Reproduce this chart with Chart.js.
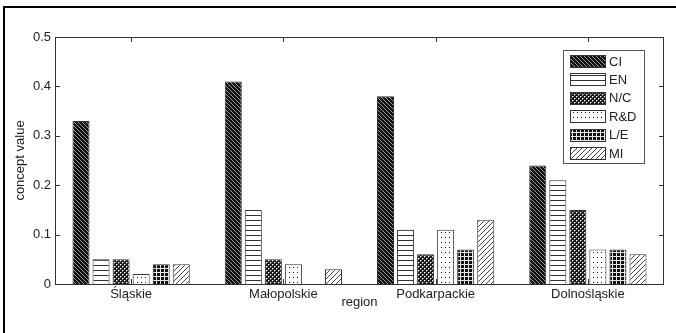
<!DOCTYPE html>
<html>
<head>
<meta charset="utf-8">
<script src="https://cdn.jsdelivr.net/npm/chart.js@4.4.0/dist/chart.umd.min.js"></script>
<style>
  html, body { margin: 0; padding: 0; background: #fff; }
</style>
</head>
<body>
<canvas id="chart" width="676" height="333"></canvas>
<script>
// data
const regions = ['Śląskie', 'Małopolskie', 'Podkarpackie', 'Dolnośląskie'];
const seriesNames = ['CI', 'EN', 'N/C', 'R&D', 'L/E', 'MI'];
const ciValues = [0.33, 0.41, 0.38, 0.24];
const enValues = [0.05, 0.15, 0.11, 0.21];
const ncValues = [0.05, 0.05, 0.06, 0.15];
const rdValues = [0.02, 0.04, 0.11, 0.07];
const leValues = [0.04, null, 0.07, 0.07];
const miValues = [0.04, 0.03, 0.13, 0.06];
const yTicks = [0, 0.1, 0.2, 0.3, 0.4, 0.5];

const FONT = '"Liberation Sans", Arial, sans-serif';
const ctx = document.getElementById('chart').getContext('2d');

// hatch fills, one small tile each
function makePattern(w, h, bg, cells) {
  const c = document.createElement('canvas');
  c.width = w; c.height = h;
  const g = c.getContext('2d');
  g.fillStyle = bg;
  g.fillRect(0, 0, w, h);
  cells.forEach(([i, j, col]) => { g.fillStyle = col; g.fillRect(i, j, 1, 1); });
  return ctx.createPattern(c, 'repeat');
}

const fills = [
  makePattern(4, 4, '#111', [[0, 0, '#9a9a9a'], [1, 1, '#9a9a9a'], [2, 2, '#9a9a9a'], [3, 3, '#9a9a9a']]),
  makePattern(1, 5, '#fff', [[0, 0, '#333']]),
  makePattern(4, 4, '#1a1a1a', [[0, 0, '#fff'], [2, 2, '#fff'], [1, 0, '#777'], [0, 1, '#777'], [3, 2, '#777'], [2, 3, '#777']]),
  makePattern(4, 5, '#fff', [[1, 2, '#111']]),
  makePattern(4, 4, '#111', [[0, 0, '#e8e8e8'], [1, 0, '#e8e8e8'], [2, 0, '#e8e8e8'], [3, 0, '#e8e8e8'], [0, 1, '#e8e8e8'], [0, 2, '#e8e8e8'], [0, 3, '#e8e8e8']]),
  makePattern(5, 5, '#fff', [[4, 0, '#444'], [3, 1, '#444'], [2, 2, '#444'], [1, 3, '#444'], [0, 4, '#444']])
];
const allValues = [ciValues, enValues, ncValues, rdValues, leValues, miValues];

// outer frame, plot box, inward ticks, legend
const decorPlugin = {
  id: 'decor',
  beforeDraw(chart) {
    const c = chart.ctx;
    c.save();
    c.fillStyle = '#fff';
    c.fillRect(0, 0, chart.width, chart.height);
    c.fillStyle = '#000';
    c.fillRect(3, 6, chart.width - 3, 2);
    c.fillRect(3, 6, 2, chart.height - 6);
    c.restore();
  },
  afterDatasetsDraw(chart) {
    const c = chart.ctx;
    const a = chart.chartArea;
    const x = chart.scales.x, y = chart.scales.y;
    c.save();
    c.strokeStyle = '#333';
    c.lineWidth = 1;
    c.strokeRect(Math.round(a.left) + 0.5, Math.round(a.top) + 0.5,
      Math.round(a.right - a.left) - 1, Math.round(a.bottom - a.top));
    c.beginPath();
    y.ticks.forEach((t, i) => {
      const py = Math.round(y.getPixelForTick(i)) + 0.5;
      c.moveTo(a.left, py); c.lineTo(a.left + 5, py);
      c.moveTo(a.right - 5, py); c.lineTo(a.right, py);
    });
    x.ticks.forEach((t, i) => {
      const px = Math.round(x.getPixelForTick(i)) + 0.5;
      c.moveTo(px, a.top); c.lineTo(px, a.top + 5);
      c.moveTo(px, a.bottom); c.lineTo(px, a.bottom - 5);
    });
    c.stroke();

    // legend
    const lx = 563, ly = 50, lw = 81, lh = 113;
    c.fillStyle = '#fff';
    c.fillRect(lx, ly, lw, lh);
    c.strokeStyle = '#555';
    c.strokeRect(lx + 0.5, ly + 0.5, lw, lh);
    c.font = '13px ' + FONT;
    c.textBaseline = 'middle';
    chart.data.datasets.forEach((ds, i) => {
      const cy = ly + 11 + i * 18.4;
      const sy = Math.round(cy - 6);
      c.fillStyle = ds.backgroundColor;
      c.fillRect(570, sy, 35, 13);
      c.strokeStyle = '#333';
      c.strokeRect(570.5, sy + 0.5, 35, 12);
      c.fillStyle = '#222';
      c.fillText(ds.label, 609, cy + 1);
    });
    c.restore();
  }
};

new Chart(ctx, {
  type: 'bar',
  data: {
    labels: regions,
    datasets: seriesNames.map((name, i) => ({
      label: name,
      data: allValues[i],
      backgroundColor: fills[i],
      borderColor: '#333',
      borderWidth: 1,
      categoryPercentage: 0.79,
      barPercentage: 0.85
    }))
  },
  options: {
    responsive: false,
    animation: false,
    devicePixelRatio: 1,
    layout: { padding: { top: 37, right: 12, left: 0, bottom: 0 } },
    plugins: { legend: { display: false }, tooltip: { enabled: false } },
    scales: {
      x: {
        grid: { display: false, drawTicks: false },
        border: { display: false },
        ticks: { color: '#222', padding: 3, font: { family: FONT, size: 13 } },
        title: {
          display: true, text: 'region', color: '#222',
          padding: { top: 0, bottom: 23 },
          font: { family: FONT, size: 13 }
        },
        afterFit(s) { s.height = 49; }
      },
      y: {
        min: 0, max: 0.5,
        grid: { display: false, drawTicks: false },
        border: { display: false },
        afterBuildTicks(s) { s.ticks = yTicks.map(v => ({ value: v })); },
        ticks: { color: '#222', padding: 4, font: { family: FONT, size: 13 } },
        title: {
          display: true, text: 'concept value', color: '#222',
          padding: { top: 13, bottom: 0 },
          font: { family: FONT, size: 13 }
        },
        afterFit(s) { s.width = 55; }
      }
    }
  },
  plugins: [decorPlugin]
});
</script>
</body>
</html>
